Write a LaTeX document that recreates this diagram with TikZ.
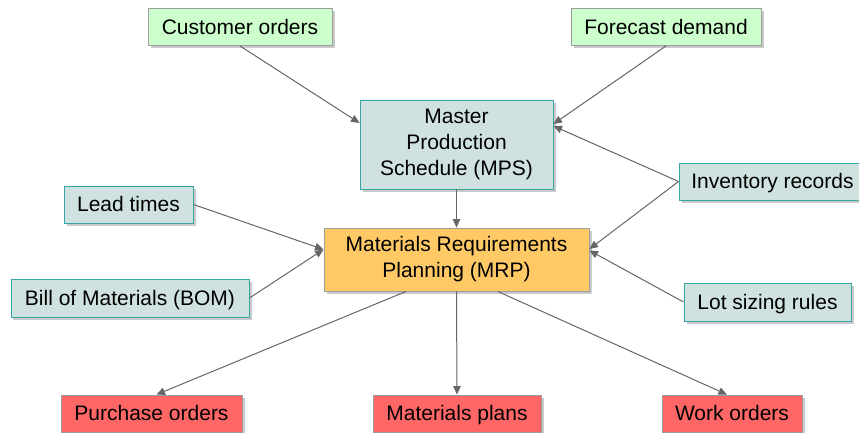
\documentclass[tikz,border=0pt]{standalone}
\usepackage{fontspec}
\setmainfont{Liberation Sans}
\usetikzlibrary{arrows.meta,shadows,calc}

\definecolor{inputfill}{HTML}{CCFFCC}
\definecolor{datafill}{HTML}{D0E2E0}
\definecolor{databorder}{HTML}{35A6A6}
\definecolor{mrpfill}{HTML}{FFCA66}
\definecolor{outfill}{HTML}{FF6666}
\definecolor{plainborder}{HTML}{9E9E9E}
\definecolor{linkgray}{HTML}{666666}

\begin{document}
\begin{tikzpicture}[x=1bp,y=-1bp,
  box/.style={draw, line width=0.9bp, inner sep=0pt, align=center,
    font=\fontsize{21bp}{26bp}\selectfont,
    drop shadow={shadow xshift=2.5bp, shadow yshift=-2.5bp, opacity=0.35, fill=black!60}},
  oneline/.style={text height=16.5bp, text depth=2bp},
  inputbox/.style={box, oneline, fill=inputfill, draw=plainborder},
  databox/.style={box, fill=datafill, draw=databorder},
  mrpbox/.style={box, fill=mrpfill, draw=plainborder},
  outbox/.style={box, oneline, fill=outfill, draw=plainborder},
  link/.style={draw=linkgray, line width=1bp, -{Triangle[length=8.5bp,width=7.5bp]}}
]
\useasboundingbox (0,0) rectangle (859,432);

% demand inputs
\node[inputbox, minimum width=184bp, minimum height=37bp] (cust) at (240,27) {Customer orders};
\node[inputbox, minimum width=190bp, minimum height=37bp] (fore) at (666,27) {Forecast demand};

% planning core
\node[databox, minimum width=193bp, minimum height=89bp] (mps) at (456.5,144.5) {Master\\Production\\Schedule (MPS)};
\node[mrpbox, minimum width=265bp, minimum height=63bp] (mrp) at (456.5,259.5) {Materials Requirements\\Planning (MRP)};

% supporting data
\node[databox, oneline, minimum width=129bp, minimum height=37bp] (lead) at (128.5,204.5) {Lead times};
\node[databox, oneline, minimum width=238bp, minimum height=38bp] (bom) at (130,298) {Bill of Materials (BOM)};
\node[databox, oneline, minimum width=187bp, minimum height=37bp] (inv) at (772.5,181.5) {Inventory records};
\node[databox, oneline, minimum width=167bp, minimum height=38bp] (lot) at (767.5,302) {Lot sizing rules};

% outputs
\node[outbox, minimum width=181bp, minimum height=37bp] (po) at (151.5,413.5) {Purchase orders};
\node[outbox, minimum width=168bp, minimum height=37bp] (mp) at (457,413.5) {Materials plans};
\node[outbox, minimum width=140bp, minimum height=37bp] (wo) at (732,413.5) {Work orders};

% connectors
\draw[link] (cust.south) -- ($(mps.west)+(0,-21.5)$);
\draw[link] (fore.south) -- ($(mps.east)+(0,-20.5)$);
\draw[link] (inv.west) -- ($(mps.east)+(0,-18.5)$);
\draw[link] (inv.west) -- ($(mrp.east)+(0,-10.5)$);
\draw[link] (lot.west) -- ($(mrp.east)+(0,-9)$);
\draw[link] (lead.east) -- ($(mrp.west)+(0,-10)$);
\draw[link] (bom.east) -- ($(mrp.west)+(0,-10)$);
\draw[link] (mps) -- (mrp);
\draw[link] ($(mrp.south west)!0.31!(mrp.south east)$) -- ($(po.north)+(5,0)$);
\draw[link] (mrp.south) -- (mp.north);
\draw[link] ($(mrp.south west)!0.655!(mrp.south east)$) -- ($(wo.north)+(-5,0)$);
\end{tikzpicture}
\end{document}
